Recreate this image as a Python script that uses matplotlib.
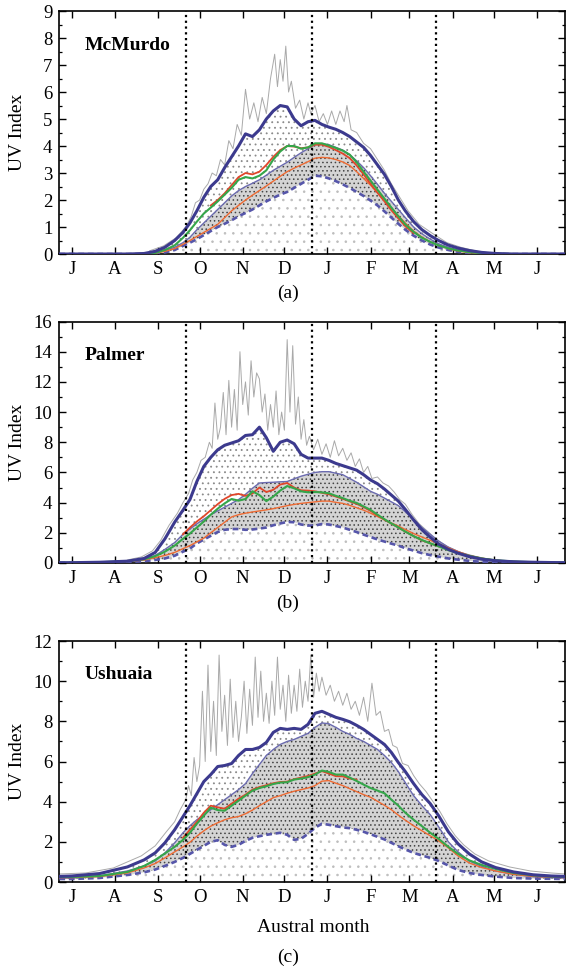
"""UV index climatology at McMurdo, Palmer and Ushuaia over the austral year."""
import matplotlib.pyplot as plt
import numpy as np
from matplotlib.ticker import MultipleLocator

plt.rcParams["font.family"] = "serif"
plt.rcParams["font.serif"] = ["Liberation Serif", "DejaVu Serif"]
plt.rcParams["hatch.linewidth"] = 0.6

# days counted from 1 July
MONTH_STARTS = [0, 31, 62, 92, 123, 153, 184, 215, 243, 274, 304, 335]
MONTHS = ["J", "A", "S", "O", "N", "D", "J", "F", "M", "A", "M", "J"]
MARKER_DAYS = [82, 173, 262]  # equinox, solstice, equinox

# common day grid for the climatology curves
DAYS = [-9, 0, 20, 40, 52, 60, 67, 74, 80, 85, 90, 95, 100, 105, 110, 115, 120,
        125, 130, 135, 140, 145, 150, 155, 160, 165, 170, 175, 180, 185, 190, 195,
        200, 205, 210, 215, 220, 225, 230, 235, 240, 246, 252, 258, 264, 271, 278,
        286, 295, 305, 318, 332, 345, 355]

# ---- McMurdo ----
MAX_DAYS_A = [56, 66, 75, 82, 86, 89, 92, 95, 98, 101, 104, 107, 110, 113, 116, 119,
              122, 125, 128, 131, 134, 137, 140, 143, 146, 148, 150, 152, 154, 156,
              158, 161, 164, 167, 170, 172, 175, 178, 181, 184, 187, 190, 193, 196,
              198, 201, 205, 210, 215, 220, 225, 230, 236, 242, 250, 260, 270, 280,
              292, 305]
MAX_A = [0.12, 0.3, 0.6, 1.0, 1.4, 1.9, 2.0, 2.4, 2.6, 3.0, 2.9, 3.5, 3.3, 4.2, 3.9,
         4.8, 4.4, 6.1, 5.0, 5.6, 4.9, 5.8, 5.2, 6.5, 7.4, 6.2, 7.2, 6.4, 7.7, 6.0,
         6.4, 5.4, 5.7, 5.0, 5.6, 5.2, 5.5, 4.9, 5.2, 4.8, 5.3, 4.8, 5.3, 4.9, 5.5,
         4.6, 4.5, 4.1, 3.9, 3.5, 3.1, 2.6, 2.1, 1.6, 1.1, 0.75, 0.42, 0.25, 0.1, 0.02]
NAVY_A = [0, 0, 0, 0, 0.02, 0.1, 0.25, 0.5, 0.8, 1.15, 1.6, 2.1, 2.5, 2.75, 3.2, 3.6,
          4.0, 4.45, 4.35, 4.6, 5.0, 5.3, 5.5, 5.45, 5.0, 4.75, 4.9, 4.95, 4.8, 4.7,
          4.62, 4.5, 4.35, 4.15, 3.95, 3.65, 3.3, 2.95, 2.5, 2.0, 1.6, 1.2, 0.9, 0.68,
          0.5, 0.33, 0.22, 0.13, 0.06, 0.02, 0, 0, 0, 0]
HI_A = [0, 0, 0, 0, 0, 0.05, 0.12, 0.25, 0.42, 0.62, 0.9, 1.15, 1.4, 1.65, 1.9, 2.15,
        2.35, 2.5, 2.62, 2.75, 2.92, 3.1, 3.25, 3.4, 3.58, 3.75, 3.9, 4.05, 4.08, 4.05,
        3.95, 3.85, 3.68, 3.45, 3.2, 2.9, 2.58, 2.25, 1.95, 1.65, 1.35, 1.0, 0.75, 0.55,
        0.38, 0.25, 0.14, 0.07, 0.03, 0.01, 0, 0, 0, 0]
LO_A = [0, 0, 0, 0, 0, 0.02, 0.06, 0.15, 0.3, 0.42, 0.55, 0.7, 0.85, 1.0, 1.12, 1.25,
        1.4, 1.52, 1.65, 1.8, 1.95, 2.08, 2.2, 2.3, 2.45, 2.6, 2.75, 2.9, 2.88, 2.8,
        2.7, 2.58, 2.45, 2.3, 2.15, 1.98, 1.8, 1.58, 1.35, 1.12, 0.9, 0.68, 0.5, 0.35,
        0.24, 0.15, 0.08, 0.04, 0.01, 0, 0, 0, 0, 0]
GREEN_A = [0, 0, 0, 0, 0, 0.04, 0.15, 0.32, 0.6, 0.88, 1.2, 1.5, 1.72, 1.95, 2.2, 2.45,
           2.75, 2.85, 2.8, 2.9, 3.1, 3.5, 3.8, 4.0, 4.0, 3.9, 3.95, 4.1, 4.1, 4.02,
           3.93, 3.83, 3.68, 3.4, 3.05, 2.72, 2.38, 2.05, 1.72, 1.4, 1.1, 0.82, 0.6,
           0.45, 0.32, 0.21, 0.13, 0.07, 0.03, 0.01, 0, 0, 0, 0]
RED_A = [None] * 12 + [1.8, 2.0, 2.25, 2.55, 2.85, 3.0, 2.95, 3.05, 3.3, 3.6, 3.85, 4.0,
                       3.98, 3.92, 3.95, 4.05, 4.05, 3.97, 3.85, 3.72, 3.55, 3.28, 2.95,
                       2.6, 2.27, 1.95, 1.62, 1.32, 1.03, 0.77] + [None] * 12
ORANGE_A = [0, 0, 0, 0, 0, 0.03, 0.1, 0.2, 0.36, 0.5, 0.65, 0.8, 0.95, 1.1, 1.35, 1.6,
            1.8, 2.0, 2.18, 2.35, 2.52, 2.7, 2.88, 3.05, 3.18, 3.3, 3.42, 3.55, 3.58,
            3.56, 3.5, 3.41, 3.28, 3.05, 2.8, 2.55, 2.27, 1.98, 1.7, 1.42, 1.15, 0.85,
            0.63, 0.45, 0.32, 0.2, 0.11, 0.05, 0.02, 0, 0, 0, 0, 0]

# ---- Palmer ----
MAX_DAYS_B = [40, 50, 58, 64, 70, 76, 80, 84, 87, 90, 93, 96, 99, 101, 103, 105, 107,
              109, 111, 113, 115, 117, 119, 121, 123, 125, 127, 129, 131, 133, 135, 137,
              139, 141, 143, 145, 147, 149, 151, 153, 155, 157, 159, 161, 163, 165, 167,
              169, 171, 174, 177, 180, 183, 186, 189, 192, 195, 198, 201, 204, 207, 210,
              213, 216, 220, 224, 228, 232, 236, 240, 245, 250, 256, 262, 270, 280, 290,
              305, 320, 340]
MAX_B = [0.2, 0.4, 0.8, 1.5, 2.5, 3.3, 4.0, 4.6, 5.5, 6.0, 6.8, 7.0, 8.0, 7.6, 10.6,
         8.2, 9.0, 11.3, 8.5, 12.1, 9.0, 11.5, 8.8, 14.0, 10.5, 12.0, 9.8, 13.4, 11.0,
         12.6, 12.2, 10.0, 11.2, 8.8, 10.5, 9.0, 11.4, 8.5, 10.0, 8.8, 14.8, 10.0, 14.4,
         9.2, 11.0, 8.2, 9.5, 7.8, 8.4, 7.5, 8.2, 7.2, 7.9, 7.0, 8.1, 7.1, 7.6, 6.8, 7.3,
         6.4, 6.9, 6.0, 6.4, 5.6, 5.7, 5.3, 5.1, 4.7, 4.2, 3.9, 3.2, 2.6, 2.1, 1.6, 1.1,
         0.7, 0.45, 0.15, 0.07, 0.03]
NAVY_B = [0.02, 0.02, 0.05, 0.12, 0.3, 0.7, 1.6, 2.7, 3.5, 4.2, 5.4, 6.4, 7.0, 7.5, 7.8,
          7.95, 8.1, 8.45, 8.5, 9.0, 8.3, 7.4, 8.0, 8.15, 7.9, 7.2, 6.95, 6.95, 6.95, 6.8,
          6.6, 6.45, 6.3, 6.15, 5.85, 5.5, 5.25, 4.9, 4.5, 4.1, 3.55, 2.85, 2.2, 1.7,
          1.25, 0.9, 0.65, 0.42, 0.25, 0.15, 0.08, 0.05, 0.03, 0.02]
HI_B = [0.02, 0.02, 0.05, 0.12, 0.25, 0.5, 0.9, 1.35, 1.9, 2.25, 2.6, 2.9, 3.2, 3.45,
        3.7, 3.95, 4.2, 4.55, 4.95, 5.3, 5.33, 5.35, 5.38, 5.4, 5.58, 5.75, 5.88, 6.0,
        6.05, 6.05, 5.95, 5.85, 5.6, 5.35, 5.05, 4.75, 4.55, 4.3, 4.05, 3.8, 3.4, 2.9,
        2.35, 1.9, 1.45, 1.05, 0.75, 0.5, 0.3, 0.18, 0.1, 0.06, 0.03, 0.02]
LO_B = [0.01, 0.01, 0.03, 0.06, 0.12, 0.2, 0.3, 0.48, 0.75, 0.95, 1.3, 1.55, 1.8, 2.05,
        2.2, 2.25, 2.25, 2.2, 2.22, 2.28, 2.35, 2.5, 2.62, 2.72, 2.7, 2.55, 2.48, 2.48,
        2.58, 2.55, 2.45, 2.35, 2.2, 2.05, 1.88, 1.72, 1.56, 1.42, 1.28, 1.15, 0.98,
        0.82, 0.65, 0.52, 0.42, 0.3, 0.22, 0.14, 0.08, 0.04, 0.02, 0.01, 0.01, 0.01]
GREEN_B = [0.02, 0.02, 0.05, 0.12, 0.25, 0.45, 0.75, 1.15, 1.6, 1.95, 2.35, 2.75, 3.2,
           3.6, 3.95, 4.24, 4.13, 4.24, 4.75, 4.5, 4.1, 4.4, 4.8, 5.1, 4.95, 4.75, 4.68,
           4.7, 4.68, 4.62, 4.45, 4.3, 4.12, 3.98, 3.75, 3.52, 3.2, 2.9, 2.62, 2.36,
           2.08, 1.78, 1.52, 1.3, 1.1, 0.85, 0.65, 0.47, 0.3, 0.18, 0.1, 0.05, 0.03, 0.02]
RED_B = [None] * 8 + [1.9, 2.35, 2.75, 3.1, 3.5, 3.9, 4.25, 4.5, 4.58, 4.45, 4.6, 5.0,
                      4.7, 4.85, 5.2, 5.3, 5.0, 4.82, 4.8, 4.75, 4.65, 4.55, 4.4, 4.25,
                      4.08, 3.92, 3.7, 3.45, 3.15, 2.88, 2.6, 2.35, 2.08, 1.78, 1.5,
                      1.3, 1.1] + [None] * 9
ORANGE_B = [0.02, 0.02, 0.05, 0.1, 0.2, 0.35, 0.5, 0.7, 0.95, 1.15, 1.4, 1.65, 2.0,
            2.35, 2.7, 3.05, 3.2, 3.3, 3.38, 3.45, 3.52, 3.6, 3.7, 3.8, 3.88, 3.95, 4.0,
            4.05, 4.1, 4.1, 4.02, 3.95, 3.82, 3.66, 3.5, 3.3, 3.08, 2.85, 2.65, 2.45,
            2.22, 1.95, 1.72, 1.5, 1.28, 1.0, 0.75, 0.5, 0.32, 0.18, 0.1, 0.05, 0.03, 0.02]

# ---- Ushuaia ----
MAX_DAYS_C = [-9, 10, 30, 50, 60, 68, 74, 78, 82, 84, 86, 88, 90, 92, 94, 96, 98, 100,
              102, 104, 106, 108, 110, 112, 114, 116, 118, 120, 122, 124, 126, 128, 130,
              132, 134, 136, 138, 140, 142, 144, 146, 148, 150, 152, 154, 156, 158, 160,
              162, 164, 166, 168, 170, 172, 174, 176, 178, 180, 183, 186, 189, 192, 195,
              198, 201, 204, 207, 210, 213, 216, 219, 222, 225, 228, 231, 234, 238, 242,
              246, 250, 255, 260, 265, 270, 276, 282, 290, 300, 315, 330, 345, 355]
MAX_C = [0.4, 0.45, 0.7, 1.3, 1.8, 2.5, 3.0, 3.6, 4.1, 4.8, 4.3, 6.2, 5.0, 5.8, 9.5, 6.0,
         10.8, 6.5, 9.0, 6.3, 11.3, 7.5, 9.3, 6.8, 10.1, 7.2, 9.0, 7.0, 8.2, 10.0, 7.4,
         9.6, 7.8, 11.2, 8.2, 10.5, 8.0, 9.4, 7.9, 10.0, 8.3, 11.2, 8.6, 9.8, 8.0, 10.3,
         8.4, 9.8, 8.5, 10.6, 8.7, 10.0, 9.0, 11.3, 9.2, 10.4, 9.5, 10.2, 9.3, 9.8, 9.0,
         9.5, 8.8, 9.4, 8.6, 9.0, 8.3, 9.2, 8.0, 9.9, 8.3, 8.5, 7.5, 7.6, 6.8, 6.7, 5.9,
         5.8, 5.3, 4.9, 4.5, 4.0, 3.5, 2.9, 2.3, 1.85, 1.4, 1.05, 0.75, 0.55, 0.45, 0.4]
NAVY_C = [0.28, 0.3, 0.42, 0.75, 1.1, 1.45, 1.95, 2.6, 3.25, 3.8, 4.4, 5.0, 5.35, 5.75,
          5.8, 5.9, 6.3, 6.6, 6.6, 6.7, 6.95, 7.45, 7.65, 7.6, 7.65, 7.6, 7.85, 8.4, 8.5,
          8.35, 8.2, 8.1, 7.98, 7.8, 7.6, 7.35, 7.1, 6.85, 6.45, 5.95, 5.5, 4.9, 4.35,
          3.9, 3.3, 2.5, 1.9, 1.4, 1.0, 0.72, 0.5, 0.36, 0.3, 0.28]
HI_C = [0.2, 0.2, 0.3, 0.55, 0.8, 1.05, 1.45, 1.95, 2.45, 2.8, 3.1, 3.35, 3.6, 3.85, 4.1,
        4.35, 4.6, 4.9, 5.4, 5.85, 6.3, 6.6, 6.85, 7.0, 7.1, 7.25, 7.4, 7.7, 7.92, 7.88,
        7.7, 7.5, 7.35, 7.15, 7.0, 6.8, 6.6, 6.3, 5.95, 5.5, 4.95, 4.3, 3.8, 3.35, 2.75,
        2.0, 1.5, 1.05, 0.78, 0.55, 0.38, 0.26, 0.22, 0.2]
LO_C = [0.15, 0.15, 0.2, 0.35, 0.48, 0.62, 0.8, 1.0, 1.2, 1.4, 1.6, 1.8, 2.0, 2.08, 1.85,
        1.75, 1.85, 2.05, 2.2, 2.28, 2.35, 2.4, 2.45, 2.35, 2.1, 2.15, 2.4, 2.7, 2.9,
        2.85, 2.78, 2.72, 2.68, 2.6, 2.5, 2.38, 2.25, 2.12, 1.95, 1.78, 1.62, 1.45, 1.32,
        1.2, 1.05, 0.82, 0.6, 0.45, 0.35, 0.27, 0.2, 0.17, 0.16, 0.15]
GREEN_C = [0.25, 0.25, 0.3, 0.5, 0.8, 1.1, 1.42, 1.75, 2.1, 2.45, 2.9, 3.3, 3.7, 3.58,
           3.55, 3.8, 4.05, 4.3, 4.55, 4.68, 4.77, 4.88, 4.95, 4.97, 5.1, 5.15, 5.22,
           5.35, 5.55, 5.48, 5.35, 5.35, 5.2, 5.03, 4.85, 4.68, 4.55, 4.42, 4.1, 3.8,
           3.45, 3.1, 2.78, 2.45, 2.15, 1.75, 1.4, 1.08, 0.85, 0.65, 0.45, 0.33, 0.27, 0.25]
RED_C = [None] * 8 + [2.2, 2.6, 3.0, 3.45, 3.8, 3.72, 3.65, 3.9, 4.15, 4.35, 4.6, 4.73,
                      4.82, 4.92, 4.98, 5.0, 5.12, 5.2, 5.28, 5.4, 5.52, 5.4, 5.27, 5.26,
                      5.15, 5.1] + [None] * 20
ORANGE_C = [0.22, 0.22, 0.27, 0.45, 0.7, 0.92, 1.2, 1.5, 1.75, 1.98, 2.28, 2.55, 2.78,
            2.95, 3.1, 3.2, 3.26, 3.4, 3.58, 3.8, 4.0, 4.2, 4.3, 4.42, 4.52, 4.6, 4.68,
            4.8, 5.02, 5.05, 4.92, 4.8, 4.65, 4.5, 4.35, 4.22, 4.02, 3.82, 3.6, 3.33,
            3.08, 2.8, 2.55, 2.3, 2.05, 1.7, 1.3, 0.95, 0.72, 0.55, 0.38, 0.28, 0.24, 0.22]

# days with measurements scattered outside the percentile band
SEASON_A = (58, 300)
SEASON_B = (40, 320)
SEASON_C = (-9, 355)

NAVY = "#3c3a8e"
BAND_EDGE = "#6b6bb0"


def draw_panel(ax, name, ymax, step, maxd, maxv, navy, hi, lo, green, red, orange, season):
    d = np.array(DAYS, dtype=float)
    hi = np.array(hi, dtype=float)
    lo = np.array(lo, dtype=float)
    navy = np.array(navy, dtype=float)
    inside = (d >= season[0]) & (d <= season[1])

    # percentile band, stippled like the daily measurements
    ax.fill_between(d, lo, hi, facecolor="#d4d4d4", edgecolor="none", zorder=1)
    ax.fill_between(d, lo, hi, facecolor="none", edgecolor="#444444", linewidth=0,
                    hatch="....", zorder=1.2)
    ax.fill_between(d, hi, navy, where=inside, facecolor="none", edgecolor="#8a8a8a",
                    linewidth=0, hatch="...", zorder=1.1)
    ax.fill_between(d, 0, lo, where=inside, facecolor="none", edgecolor="#bdbdbd",
                    linewidth=0, hatch="..", zorder=1.1)

    ax.plot(maxd, maxv, color="#a9a9a9", lw=0.7, zorder=2)
    ax.plot(d, hi, color=BAND_EDGE, lw=1.0, zorder=3)
    ax.plot(d, lo, color="#5656aa", lw=1.9, ls=(0, (2.2, 1.4)), zorder=3)
    ax.plot(d, orange, color="#ee6a32", lw=1.0, zorder=3.5)
    ax.plot(d, np.array(red, dtype=float), color="#e0462a", lw=1.3, zorder=3.8)
    ax.plot(d, green, color="#35a64a", lw=1.5, zorder=4)
    ax.plot(d, navy, color=NAVY, lw=2.2, zorder=5)

    for x in MARKER_DAYS:
        ax.axvline(x, color="black", lw=1.6, ls=(0, (1, 1.6)), zorder=6)

    ax.set_xlim(-9, 355)
    ax.set_ylim(0, ymax)
    ax.set_xticks(MONTH_STARTS)
    ax.set_xticklabels(MONTHS)
    ax.yaxis.set_major_locator(MultipleLocator(step))
    ax.yaxis.set_minor_locator(MultipleLocator(step / 2))
    ax.tick_params(which="both", direction="in", top=True, right=True, labelsize=13.5)
    ax.tick_params(which="major", length=5, width=1, pad=5)
    ax.tick_params(which="minor", length=2.5, width=0.9)
    ax.tick_params(axis="x", which="minor", bottom=False, top=False)
    for sp in ax.spines.values():
        sp.set_linewidth(1.2)

    ax.set_ylabel("UV Index", fontsize=14)
    ax.yaxis.set_label_coords(-0.066, 0.5)
    ax.text(0.05, 0.86, name, transform=ax.transAxes, fontsize=14,
            fontweight="bold", va="center", ha="left")


def main():
    fig = plt.figure(figsize=(5.67, 9.67), dpi=100)
    ax_a = fig.add_axes([0.1046, 0.7373, 0.892, 0.2513])
    ax_b = fig.add_axes([0.1046, 0.4178, 0.892, 0.2497])
    ax_c = fig.add_axes([0.1046, 0.0879, 0.892, 0.2492])

    draw_panel(ax_a, "McMurdo", 9, 1, MAX_DAYS_A, MAX_A, NAVY_A, HI_A, LO_A,
               GREEN_A, RED_A, ORANGE_A, SEASON_A)
    draw_panel(ax_b, "Palmer", 16, 2, MAX_DAYS_B, MAX_B, NAVY_B, HI_B, LO_B,
               GREEN_B, RED_B, ORANGE_B, SEASON_B)
    draw_panel(ax_c, "Ushuaia", 12, 2, MAX_DAYS_C, MAX_C, NAVY_C, HI_C, LO_C,
               GREEN_C, RED_C, ORANGE_C, SEASON_C)

    fig.text(0.508, 1 - 293 / 967, "(a)", ha="center", va="center", fontsize=14)
    fig.text(0.508, 1 - 603 / 967, "(b)", ha="center", va="center", fontsize=14)
    fig.text(0.552, 1 - 928 / 967, "Austral month", ha="center", va="center", fontsize=14)
    fig.text(0.508, 1 - 957 / 967, "(c)", ha="center", va="center", fontsize=14)

    fig.savefig("out.png", dpi=100)
    plt.close(fig)


if __name__ == "__main__":
    main()
